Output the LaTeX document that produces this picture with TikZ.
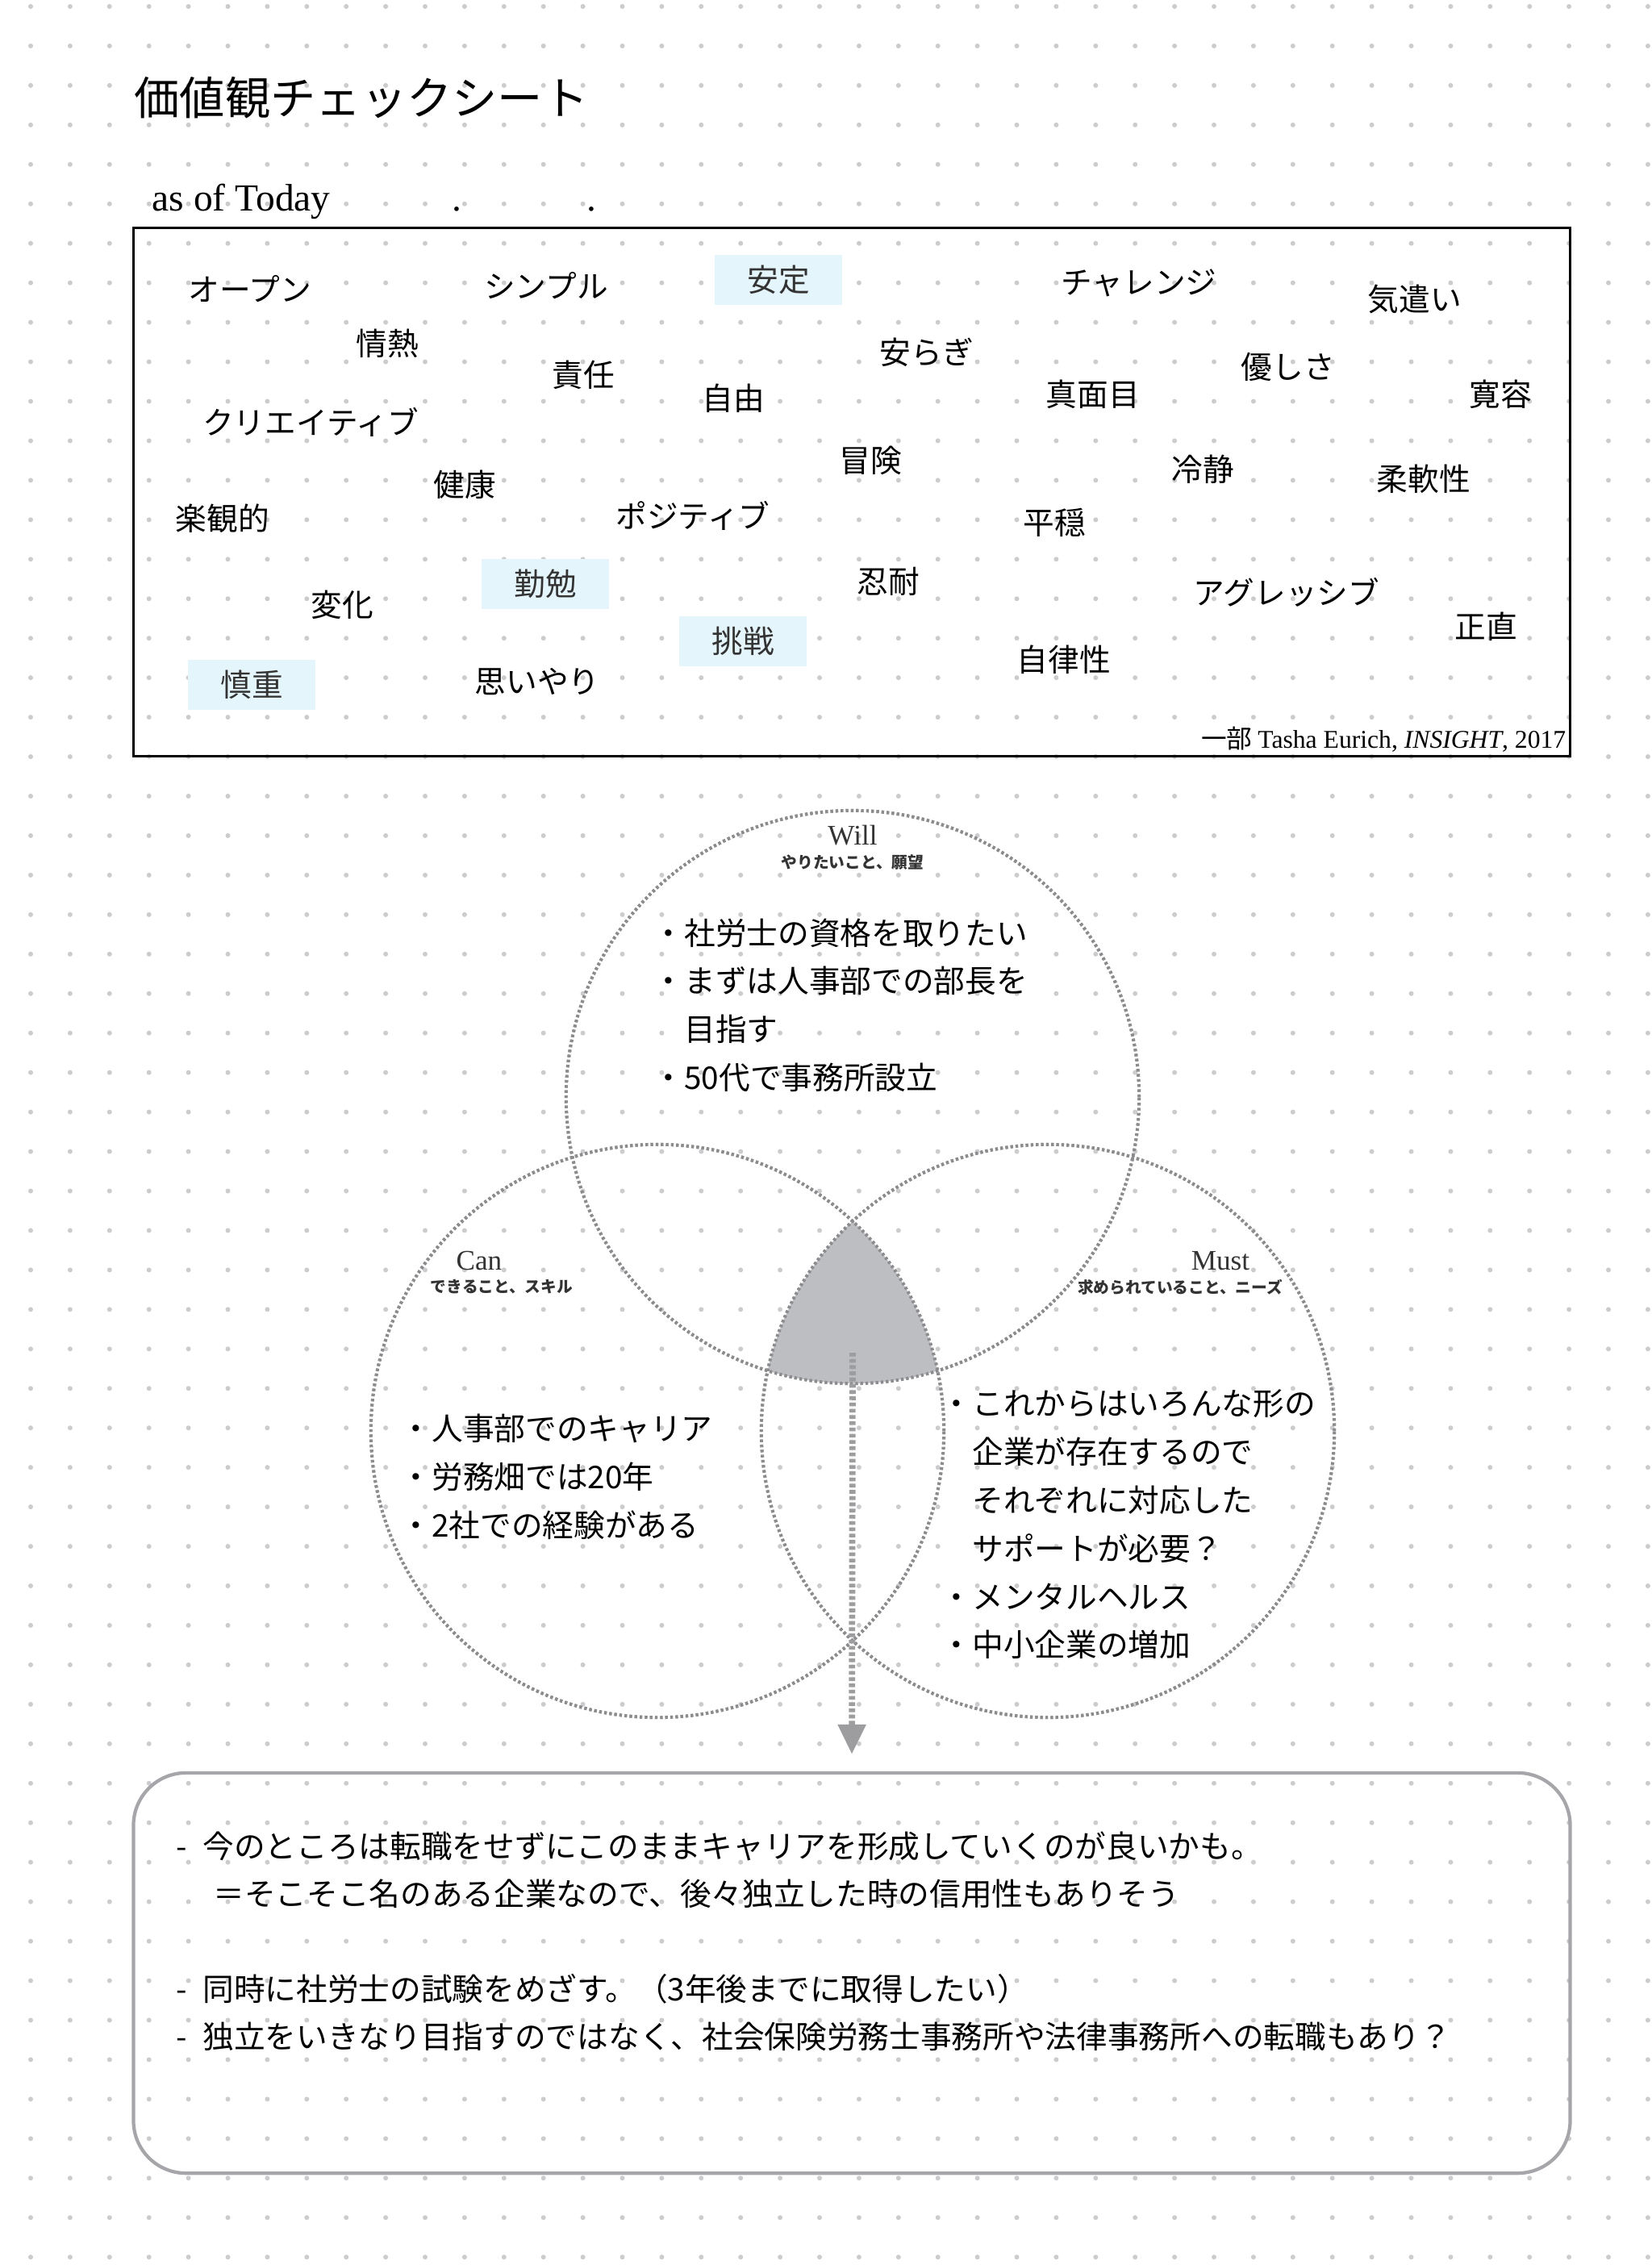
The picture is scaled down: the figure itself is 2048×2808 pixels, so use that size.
\documentclass[tikz,border=0pt]{standalone}
\usepackage{fontspec}
\setmainfont{Noto Sans CJK JP}
\newfontfamily\latinserif{Liberation Serif}
\usepackage{tikz}
\usetikzlibrary{arrows.meta,positioning}
\definecolor{dotGray}{RGB}{204,204,206}
\definecolor{pickBlue}{RGB}{229,245,252}
\definecolor{coreGray}{RGB}{189,190,194}
\definecolor{vennGray}{RGB}{140,140,143}
\definecolor{noteGray}{RGB}{165,165,170}

\begin{document}
\begin{tikzpicture}[x=0.01cm, y=-0.01cm,
    word/.style={inner sep=0pt, font=\fontsize{11pt}{13pt}\selectfont},
    pick/.style={word, fill=pickBlue, minimum width=1.58cm, minimum height=0.61cm, text=black!80},
    venn/.style={circle, draw=vennGray, minimum size=7.1cm, line width=1.1pt, dash pattern=on 0.9pt off 0.9pt},
    head/.style={inner sep=0pt, text=black!80, font=\latinserif\fontsize{10pt}{12pt}\selectfont},
    sub/.style={inner sep=0pt, text=black!80, font=\bfseries\fontsize{5.6pt}{7pt}\selectfont},
    item/.style={inner sep=0pt, align=left, anchor=west, font=\fontsize{11pt}{17pt}\selectfont},
    flow/.style={draw=vennGray!85, fill=vennGray!85, line width=2.2pt, dash pattern=on 1.3pt off 0.9pt, -{Triangle[width=9.5pt,length=10.5pt]}, shorten >=0.21cm}]
    % page and dot grid
    \useasboundingbox (0,0) rectangle (2048,2808);
    \fill[white] (0,0) rectangle (2048,2808);
    \foreach \i in {0,...,41}
        \foreach \j in {0,...,57}
            \fill[dotGray] (38+48.9*\i, 8+48.95*\j) circle[radius=0.03cm];

    % header
    \node[anchor=west, inner sep=0pt, font=\fontsize{16pt}{18pt}\selectfont] (title) at (166,121) {価値観チェックシート};
    \node[anchor=base west, inner sep=0pt, font=\latinserif\fontsize{13.5pt}{15pt}\selectfont] (asof) at (188,261) {as of Today\hspace{43pt}.\hspace{44pt}.};

    % value words
    \node[draw, line width=0.8pt, minimum width=17.8cm, minimum height=6.55cm] (sheet) at (1056,610) {};
    \node[word] (open) at (310,358) {オープン};
    \node[word] (simple) at (677,354) {シンプル};
    \node[pick] (stable) at (965,347) {安定};
    \node[word] (challenge) at (1412,351) {チャレンジ};
    \node[word] (care) at (1754,371) {気遣い};
    \node[word] (passion) at (480,426) {情熱};
    \node[word] (duty) at (723,465) {責任};
    \node[word] (freedom) at (909,494) {自由};
    \node[word] (ease) at (1149,437) {安らぎ};
    \node[word] (serious) at (1355,489) {真面目};
    \node[word] (kind) at (1597,455) {優しさ};
    \node[word] (tolerant) at (1860,489) {寛容};
    \node[word] (creative) at (385,523) {クリエイティブ};
    \node[word] (adventure) at (1079,571) {冒険};
    \node[word] (calm) at (1491,582) {冷静};
    \node[word] (flexible) at (1765,594) {柔軟性};
    \node[word] (health) at (576,601) {健康};
    \node[word] (optimism) at (276,643) {楽観的};
    \node[word] (positive) at (859,639) {ポジティブ};
    \node[word] (tranquil) at (1307,648) {平穏};
    \node[pick] (diligence) at (676,724) {勤勉};
    \node[word] (patience) at (1101,721) {忍耐};
    \node[word] (aggressive) at (1595,734) {アグレッシブ};
    \node[word] (change) at (424,750) {変化};
    \node[pick] (attempt) at (921,795) {挑戦};
    \node[word] (honest) at (1842,777) {正直};
    \node[word] (autonomy) at (1319,818) {自律性};
    \node[pick] (prudence) at (312,849) {慎重};
    \node[word] (compassion) at (666,845) {思いやり};
    \node[anchor=east, inner sep=0pt, font=\fontsize{9pt}{10pt}\selectfont] (credit) at (1942,917) {一部 {\latinserif Tasha Eurich, \textit{INSIGHT}, 2017}};

    % will / can / must
    \node[venn] (will) at (1057,1360) {};
    \node[venn] (can) at (815,1774) {};
    \node[venn] (must) at (1299,1774) {};
    \begin{scope}
        \clip (will.center) circle[radius=3.55cm];
        \clip (can.center) circle[radius=3.55cm];
        \fill[coreGray] (must.center) circle[radius=3.55cm];
    \end{scope}
    \node[venn] at (will.center) {};
    \node[venn] at (can.center) {};
    \node[venn] at (must.center) {};

    \node[head] (willhead) at (1057,1036) {Will};
    \node[sub, below=0.1cm of willhead] (willsub) {やりたいこと、願望};
    \node[head] (canhead) at (594,1563) {Can};
    \node[sub, below=0.1cm of canhead, xshift=0.28cm] (cansub) {できること、スキル};
    \node[head] (musthead) at (1513,1563) {Must};
    \node[sub, below=0.1cm of musthead, xshift=-0.5cm] (mustsub) {求められていること、ニーズ};

    \node[item] (willtext) at (809,1246) {・社労士の資格を取りたい\\・まずは人事部での部長を\\　目指す\\・50代で事務所設立};
    \node[item] (cantext) at (496,1831) {・人事部でのキャリア\\・労務畑では20年\\・2社での経験がある};
    \node[item] (musttext) at (1166,1890) {・これからはいろんな形の\\　企業が存在するので\\　それぞれに対応した\\　サポートが必要？\\・メンタルヘルス\\・中小企業の増加};

    % conclusion
    \coordinate (core) at (1057,1677);
    \node[draw=noteGray, line width=1.2pt, rounded corners=0.65cm, minimum width=17.8cm, minimum height=4.96cm] (note) at (1056,2446) {};
    \draw[flow] (core) -- (note.north);
    \node[item, font=\fontsize{11pt}{16.8pt}\selectfont] (notetext) at (218,2407) {-\enspace 今のところは転職をせずにこのままキャリアを形成していくのが良いかも。\\\hspace{13pt}＝そこそこ名のある企業なので、後々独立した時の信用性もありそう\\[16.8pt]-\enspace 同時に社労士の試験をめざす。（3年後までに取得したい）\\-\enspace 独立をいきなり目指すのではなく、社会保険労務士事務所や法律事務所への転職もあり？};
\end{tikzpicture}
\end{document}
